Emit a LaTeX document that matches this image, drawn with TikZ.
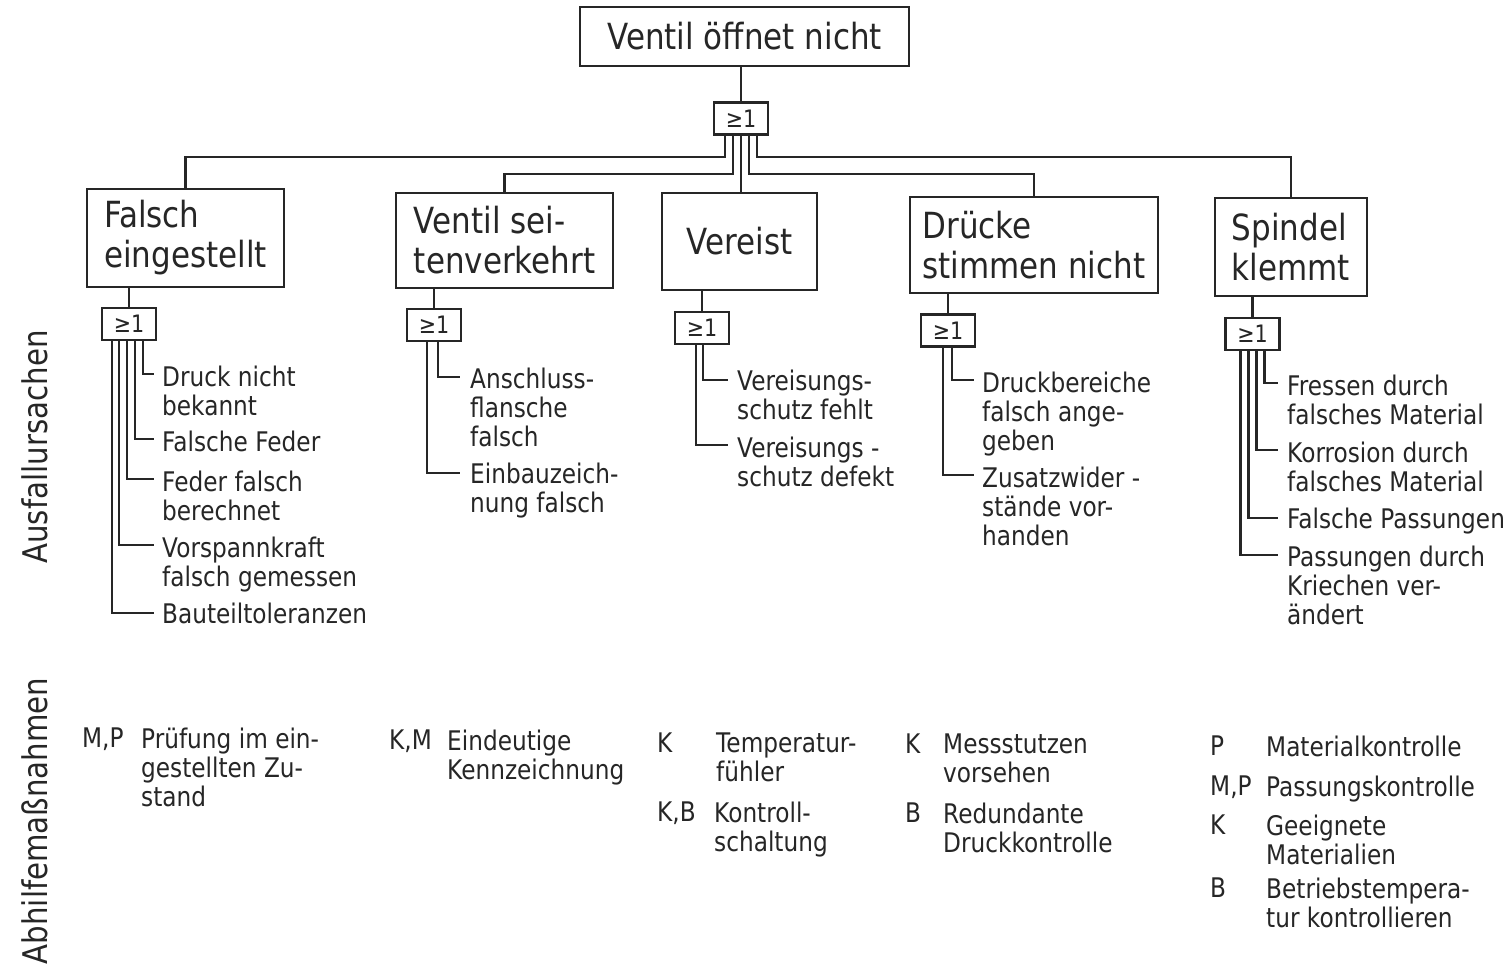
\documentclass[tikz,border=0pt]{standalone}
\usepackage{fontspec}
\newfontfamily\tech[FakeStretch=0.86]{DejaVu Sans}
\usetikzlibrary{calc}
\begin{document}
\begin{tikzpicture}[x=1pt,y=-1pt,color=black!85,
  evbox/.style={draw, line width=2.4pt, align=left, inner sep=0pt,
    font=\tech\fontsize{36}{40}\selectfont},
  gate/.style={draw, line width=2.4pt, minimum width=54pt, minimum height=32pt,
    inner sep=0pt, font=\tech\fontsize{24}{26}\selectfont},
  cause/.style={anchor=north west, align=left, inner sep=0pt,
    font=\tech\fontsize{27}{29}\selectfont},
  wire/.style={line width=2.4pt},
  sidelabel/.style={rotate=90, inner sep=0pt, font=\tech\fontsize{34}{40}\selectfont}]

\path[fill=white] (0,0) rectangle (1512,967);
\useasboundingbox (0,0) rectangle (1512,967);

% top event and main OR gate
\node[evbox, minimum width=329pt, minimum height=59pt] (top) at (744.5,36.5) {Ventil öffnet nicht};
\node[gate] (G) at (741,118.5) {≥1};

% intermediate events
\node[evbox, minimum width=197pt, minimum height=98pt] (bF) at (185.5,238) {Falsch\\eingestellt};
\node[evbox, minimum width=217pt, minimum height=95pt] (bV) at (504.5,240.5) {Ventil sei-\\tenverkehrt};
\node[evbox, minimum width=155pt, minimum height=97pt] (bE) at (739.5,241.5) {Vereist};
\node[evbox, minimum width=248pt, minimum height=96pt] (bD) at (1034,245) {Drücke\\stimmen nicht};
\node[evbox, minimum width=152pt, minimum height=98pt] (bS) at (1291,247) {Spindel\\klemmt};

% OR gates below each event
\node[gate] (gF) at (129,324) {≥1};
\node[gate] (gV) at (434,325) {≥1};
\node[gate] (gE) at (702,328) {≥1};
\node[gate] (gD) at (948,330.5) {≥1};
\node[gate] (gS) at (1252.5,334) {≥1};

% wiring of the main gate
\draw[wire] (G.north |- top.south) -- (G.north);
\draw[wire] ([xshift=-16pt]G.south) -- ++(0,21) -| (bF.north);
\draw[wire] ([xshift=-8pt]G.south) -- ++(0,38) -| (bV.north);
\draw[wire] (G.south) -- (G.south |- bE.north);
\draw[wire] ([xshift=8pt]G.south) -- ++(0,38) -| (bD.north);
\draw[wire] ([xshift=16pt]G.south) -- ++(0,21) -| (bS.north);

% events to their gates
\draw[wire] (gF.north |- bF.south) -- (gF.north);
\draw[wire] (gV.north |- bV.south) -- (gV.north);
\draw[wire] (gE.north |- bE.south) -- (gE.north);
\draw[wire] (gD.north |- bD.south) -- (gD.north);
\draw[wire] (gS.north |- bS.south) -- (gS.north);

% causes: Falsch eingestellt
\node[cause] (cF1) at (162,366) {Druck nicht\\bekannt};
\node[cause] (cF2) at (162,431) {Falsche Feder};
\node[cause] (cF3) at (162,471) {Feder falsch\\berechnet};
\node[cause] (cF4) at (162,537) {Vorspannkraft\\falsch gemessen};
\node[cause] (cF5) at (162,603) {Bauteiltoleranzen};
\draw[wire] ([xshift=14pt]gF.south) |- ([shift={(-8,8)}]cF1.north west);
\draw[wire] ([xshift=6pt]gF.south) |- ([shift={(-8,8)}]cF2.north west);
\draw[wire] ([xshift=-2pt]gF.south) |- ([shift={(-8,8)}]cF3.north west);
\draw[wire] ([xshift=-10pt]gF.south) |- ([shift={(-8,8)}]cF4.north west);
\draw[wire] ([xshift=-17pt]gF.south) |- ([shift={(-8,10)}]cF5.north west);

% causes: Ventil seitenverkehrt
\node[cause] (cV1) at (470,368) {Anschluss-\\flansche\\falsch};
\node[cause] (cV2) at (470,463) {Einbauzeich-\\nung falsch};
\draw[wire] ([xshift=4pt]gV.south) |- ([shift={(-10,9)}]cV1.north west);
\draw[wire] ([xshift=-7pt]gV.south) |- ([shift={(-10,10)}]cV2.north west);

% causes: Vereist
\node[cause] (cE1) at (737,370) {Vereisungs-\\schutz fehlt};
\node[cause] (cE2) at (737,437) {Vereisungs -\\schutz defekt};
\draw[wire] ([xshift=1pt]gE.south) |- ([shift={(-9,10)}]cE1.north west);
\draw[wire] ([xshift=-6pt]gE.south) |- ([shift={(-9,8)}]cE2.north west);

% causes: Drücke stimmen nicht
\node[cause] (cD1) at (982,372) {Druckbereiche\\falsch ange-\\geben};
\node[cause] (cD2) at (982,467) {Zusatzwider -\\stände vor-\\handen};
\draw[wire] ([xshift=4pt]gD.south) |- ([shift={(-8,8)}]cD1.north west);
\draw[wire] ([xshift=-5pt]gD.south) |- ([shift={(-8,8)}]cD2.north west);

% causes: Spindel klemmt
\node[cause] (cS1) at (1287,375) {Fressen durch\\falsches Material};
\node[cause] (cS2) at (1287,442) {Korrosion durch\\falsches Material};
\node[cause] (cS3) at (1287,508) {Falsche Passungen};
\node[cause] (cS4) at (1287,546) {Passungen durch\\Kriechen ver-\\ändert};
\draw[wire] ([xshift=12pt]gS.south) |- ([shift={(-9,8)}]cS1.north west);
\draw[wire] ([xshift=4pt]gS.south) |- ([shift={(-9,8)}]cS2.north west);
\draw[wire] ([xshift=-4pt]gS.south) |- ([shift={(-9,10)}]cS3.north west);
\draw[wire] ([xshift=-12pt]gS.south) |- ([shift={(-9,9)}]cS4.north west);

% side headings
\node[sidelabel] (lab1) at (35,447) {Ausfallursachen};
\node[sidelabel] (lab2) at (35,821) {Abhilfemaßnahmen};

% remedies
\node[cause] (m1t) at (82,728) {M,P};
\node[cause] (m1) at (141,728) {Prüfung im ein-\\gestellten Zu-\\stand};
\node[cause] (m2t) at (389,730) {K,M};
\node[cause] (m2) at (447,730) {Eindeutige\\Kennzeichnung};
\node[cause] (m3t) at (657,733) {K};
\node[cause] (m3) at (716,733) {Temperatur-\\fühler};
\node[cause] (m4t) at (657,802) {K,B};
\node[cause] (m4) at (714,802) {Kontroll-\\schaltung};
\node[cause] (m5t) at (905,734) {K};
\node[cause] (m5) at (943,734) {Messstutzen\\vorsehen};
\node[cause] (m6t) at (905,803) {B};
\node[cause] (m6) at (943,803) {Redundante\\Druckkontrolle};
\node[cause] (m7t) at (1210,736) {P};
\node[cause] (m7) at (1266,736) {Materialkontrolle};
\node[cause] (m8t) at (1210,776) {M,P};
\node[cause] (m8) at (1266,776) {Passungskontrolle};
\node[cause] (m9t) at (1210,815) {K};
\node[cause] (m9) at (1266,815) {Geeignete\\Materialien};
\node[cause] (m10t) at (1210,878) {B};
\node[cause] (m10) at (1266,878) {Betriebstempera-\\tur kontrollieren};

\end{tikzpicture}
\end{document}
